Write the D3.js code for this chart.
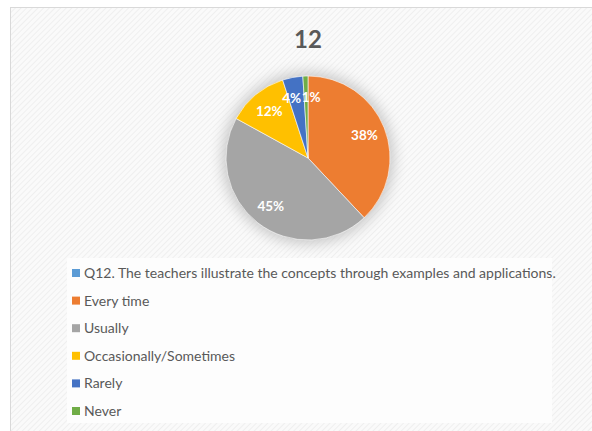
<!DOCTYPE html>
<html>
<head>
<meta charset="utf-8">
<script src="https://cdn.jsdelivr.net/npm/d3@7"></script>
<style>
  body { margin: 0; background: #fff; }
  text { font-family: Lato, "Open Sans", sans-serif; }
</style>
</head>
<body>
<div id="chart"></div>
<script>
var categories = [
  "Q12. The teachers illustrate the concepts through examples and applications.",
  "Every time",
  "Usually",
  "Occasionally/Sometimes",
  "Rarely",
  "Never"
];
var values = [0, 38, 45, 12, 4, 1];
var colors = ["#5B9BD5", "#ED7D31", "#A5A5A5", "#FFC000", "#4472C4", "#70AD47"];
var title = "12";

var width = 592, height = 431;

var svg = d3.select("#chart")
  .append("svg")
  .attr("width", width)
  .attr("height", height);

var defs = svg.append("defs");

// faint diagonal hatching like the Excel chart area
var pat = defs.append("pattern")
  .attr("id", "hatch")
  .attr("width", 4)
  .attr("height", 4)
  .attr("patternUnits", "userSpaceOnUse")
  .attr("patternTransform", "rotate(45)");
pat.append("rect").attr("width", 4).attr("height", 4).attr("fill", "#fafafa");
pat.append("line")
  .attr("x1", 0).attr("y1", 0).attr("x2", 0).attr("y2", 4)
  .attr("stroke", "#ececec").attr("stroke-width", 1.5);

var blur = defs.append("filter")
  .attr("id", "glow")
  .attr("x", "-30%").attr("y", "-30%")
  .attr("width", "160%").attr("height", "160%");
blur.append("feGaussianBlur").attr("stdDeviation", 7);

// chart area
svg.append("rect")
  .attr("x", 10.5)
  .attr("y", 7.5)
  .attr("width", 590)
  .attr("height", 440)
  .attr("fill", "url(#hatch)")
  .attr("stroke", "#d9d9d9");

svg.append("text")
  .attr("x", 308)
  .attr("y", 48)
  .attr("text-anchor", "middle")
  .style("font-size", "24px")
  .style("font-weight", "bold")
  .style("fill", "#595959")
  .text(title);

var cx = 308, cy = 158, r = 82;

var pie = d3.pie().sort(null).value(function (d) { return d; });
var arc = d3.arc().innerRadius(0).outerRadius(r);
var labelArc = d3.arc().innerRadius(r * 0.74).outerRadius(r * 0.74);

var g = svg.append("g")
  .attr("transform", "translate(" + cx + "," + cy + ")");

g.append("circle")
  .attr("r", r + 4)
  .attr("fill", "#c8c8c8")
  .attr("filter", "url(#glow)");

var arcs = pie(values).map(function (d, i) {
  d.name = categories[i];
  d.color = colors[i];
  return d;
}).filter(function (d) { return d.value > 0; });

g.selectAll("path.slice")
  .data(arcs)
  .enter()
  .append("path")
  .attr("class", "slice")
  .attr("d", arc)
  .attr("fill", function (d) { return d.color; })
  .attr("stroke", "#fff")
  .attr("stroke-width", 0.6);

// the two thin slices sit side by side, nudge them apart a little
var nudge = { "Rarely": -5, "Never": 5 };

g.selectAll("text.lbl")
  .data(arcs)
  .enter()
  .append("text")
  .attr("class", "lbl")
  .attr("transform", function (d) {
    var c = labelArc.centroid(d);
    return "translate(" + (c[0] + (nudge[d.name] || 0)) + "," + c[1] + ")";
  })
  .attr("text-anchor", "middle")
  .attr("dy", "0.35em")
  .style("font-size", "13.5px")
  .style("font-weight", "bold")
  .style("fill", "#fff")
  .text(function (d) { return d.value + "%"; });

// legend
svg.append("rect")
  .attr("x", 67)
  .attr("y", 258)
  .attr("width", 485)
  .attr("height", 165)
  .attr("fill", "#fdfdfd");

var ly = d3.scalePoint()
  .domain(categories)
  .range([273, 411]);

var legend = svg.append("g").attr("class", "legend");

var items = legend.selectAll("g")
  .data(categories)
  .enter()
  .append("g")
  .attr("transform", function (d) { return "translate(72," + ly(d) + ")"; });

items.append("rect")
  .attr("x", 0)
  .attr("y", -4)
  .attr("width", 8)
  .attr("height", 8)
  .attr("fill", function (d, i) { return colors[i]; });

items.append("text")
  .attr("x", 12)
  .attr("dy", "0.35em")
  .style("font-size", "14px")
  .style("fill", "#595959")
  .text(function (d) { return d; });
</script>
</body>
</html>
